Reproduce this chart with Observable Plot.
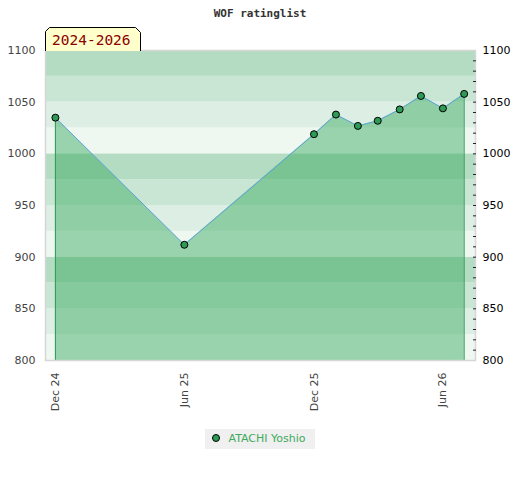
<!DOCTYPE html>
<html>
<head>
<meta charset="utf-8">
<script src="https://cdn.jsdelivr.net/npm/d3@7"></script>
<script src="https://cdn.jsdelivr.net/npm/@observablehq/plot@0.6"></script>
<style>
  body { margin: 0; background: #fff; width: 520px; height: 480px; overflow: hidden; font-family: "DejaVu Sans", sans-serif; }
  #title { height: 24px; line-height: 27px; text-align: center; font-family: "DejaVu Sans Mono", monospace; font-weight: bold; font-size: 11px; color: #333; }
  #chart { position: relative; height: 396px; }
  #badge { position: absolute; left: 45px; top: 3px; }
  #legend { text-align: center; margin-top: 7px; }
  #legend span.box { display: inline-block; background: #f0f0f0; height: 20px; line-height: 20px; padding: 0 9px 0 7px; font-size: 11px; color: #3faa60; }
  #legend i { display: inline-block; width: 6px; height: 6px; border-radius: 50%; background: #2e9a55; border: 1px solid #000; margin-right: 8px; vertical-align: 0px; }
</style>
</head>
<body>
<div id="title">WOF ratinglist</div>
<div id="chart"></div>
<div id="legend"><span class="box"><i></i>ATACHI Yoshio</span></div>
<script>
const dates = ["2024-12-01","2025-06-01","2025-12-01","2026-01-01","2026-02-01","2026-03-01","2026-04-01","2026-05-01","2026-06-01","2026-07-01"];
const ratings = [1035, 912, 1019, 1038, 1027, 1032, 1043, 1056, 1044, 1058];
const xTicks = ["2024-12-01","2025-06-01","2025-12-01","2026-06-01"];
const xTickLabels = ["Dec 24","Jun 25","Dec 25","Jun 26"];
const yLabels = [800, 850, 900, 950, 1000, 1050, 1100];
const yMinor = [810,820,830,840,850,860,870,880,890,900,910,920,930,940,950,960,970,980,990,1000,1010,1020,1030,1040,1050,1060,1070,1080,1090];
const bandStarts = [800,825,850,875,900,925,950,975,1000,1025,1050,1075];
const bandColors = ["#eff7f1","#ddeee4","#c9e6d4","#b3dcc2"];
const seriesName = "ATACHI Yoshio";
const rangeLabel = "2024-2026";
const xDomain = ["2024-11-17","2026-07-17"];

const data = dates.map((d, i) => ({date: new Date(d + "T00:00:00Z"), rating: ratings[i], name: seriesName}));
const bands = bandStarts.map(b => ({y1: b, y2: b + 25, color: bandColors[((b % 100) / 25)]}));
const first = data[0], last = data[data.length - 1];
const tickDates = xTicks.map(d => new Date(d + "T00:00:00Z"));
const fmt = d => xTickLabels[tickDates.findIndex(t => +t === +d)];

const plot = Plot.plot({
  width: 520,
  height: 396,
  marginLeft: 45,
  marginRight: 45,
  marginTop: 26,
  marginBottom: 60,
  style: {fontFamily: "DejaVu Sans, sans-serif", fontSize: "11px", background: "transparent", overflow: "visible"},
  x: {type: "utc", domain: xDomain.map(d => new Date(d + "T00:00:00Z"))},
  y: {domain: [800, 1100]},
  marks: [
    Plot.rect(bands, {y1: "y1", y2: "y2", fill: "color"}),
    Plot.areaY(data, {x: "date", y1: 800, y2: "rating", fill: "#39ab60", fillOpacity: 0.47}),
    Plot.ruleX([first, last], {x: "date", y1: 800, y2: "rating", stroke: "#2e9a55", strokeWidth: 1}),
    Plot.lineY(data, {x: "date", y: "rating", stroke: "#5ba3d9", strokeWidth: 1}),
    Plot.dot(data, {x: "date", y: "rating", r: 3.5, fill: "#2e9a55", stroke: "#000", strokeWidth: 1}),
    Plot.frame({stroke: "#d6d6d6", strokeWidth: 1.5}),
    Plot.axisY({anchor: "left", ticks: yLabels, tickFormat: d => String(d), tickSize: 0, tickPadding: 10, fill: "#444", label: null}),
    Plot.axisY({anchor: "right", ticks: yMinor, tickSize: 3, dx: -3, tickFormat: () => "", stroke: "#222", label: null}),
    Plot.axisY({anchor: "right", ticks: yLabels, tickFormat: d => String(d), tickSize: 0, tickPadding: 7, fill: "#000", label: null}),
    Plot.axisX({ticks: tickDates, tickFormat: fmt, tickRotate: -90, tickSize: 0, tickPadding: 12, fill: "#444", label: null})
  ]
});
const chart = document.getElementById("chart");
chart.appendChild(plot);

// badge with chamfered top corners
const ns = "http://www.w3.org/2000/svg";
const badge = document.createElementNS(ns, "svg");
badge.setAttribute("id", "badge");
badge.setAttribute("width", "96");
badge.setAttribute("height", "24");
const poly = document.createElementNS(ns, "path");
poly.setAttribute("d", "M0.5,24 V4.5 L4.5,0.5 H90.5 L95.5,5.5 V24");
poly.setAttribute("fill", "#ffffcc");
poly.setAttribute("stroke", "#000");
poly.setAttribute("stroke-width", "1");
badge.appendChild(poly);
const t = document.createElementNS(ns, "text");
t.setAttribute("x", "7");
t.setAttribute("y", "18");
t.setAttribute("font-family", "DejaVu Sans Mono, monospace");
t.setAttribute("font-size", "14.5");
t.setAttribute("fill", "#8b0000");
t.textContent = rangeLabel;
badge.appendChild(t);
chart.appendChild(badge);
</script>
</body>
</html>
